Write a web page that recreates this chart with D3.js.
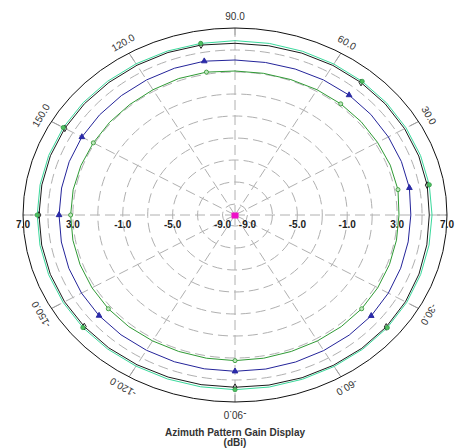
<!DOCTYPE html>
<html>
<head>
<meta charset="utf-8">
<script src="https://cdn.jsdelivr.net/npm/d3@7"></script>
<style>
  html, body { margin: 0; padding: 0; background: #fff; }
  svg { display: block; }
</style>
</head>
<body>
<svg id="chart" width="462" height="448"></svg>
<script>
// Azimuth angles (degrees) of each sample
const azimuths = [0, 10, 20, 30, 40, 50, 60, 70, 80, 90, 100, 110, 120, 130, 140, 150, 160, 170,
                  180, -170, -160, -150, -140, -130, -120, -110, -100, -90, -80, -70, -60, -50, -40, -30, -20, -10];

// Gain (dBi) per azimuth for each trace
const gainTeal  = [5.80, 5.82, 5.83, 5.84, 5.86, 5.86, 5.85, 5.84, 5.84, 5.85, 5.84, 5.86, 5.87, 5.88, 5.89, 5.90, 5.89, 5.87,
                   5.86, 5.88, 5.90, 5.91, 5.92, 5.90, 5.87, 5.86, 5.86, 5.88, 5.88, 5.88, 5.90, 5.93, 5.94, 5.90, 5.84, 5.80];
const gainBlack = [5.58, 5.65, 5.68, 5.70, 5.72, 5.72, 5.70, 5.66, 5.62, 5.61, 5.69, 5.72, 5.72, 5.73, 5.75, 5.76, 5.75, 5.73,
                   5.72, 5.74, 5.76, 5.78, 5.78, 5.76, 5.72, 5.68, 5.66, 5.66, 5.70, 5.74, 5.78, 5.82, 5.83, 5.78, 5.70, 5.62];
const gainBlue  = [4.10, 4.20, 4.20, 4.20, 4.22, 4.23, 4.18, 4.12, 4.08, 4.09, 4.20, 4.20, 4.18, 4.17, 4.17, 4.18, 4.15, 4.12,
                   4.11, 4.14, 4.18, 4.21, 4.23, 4.22, 4.20, 4.20, 4.20, 4.21, 4.22, 4.22, 4.23, 4.25, 4.26, 4.20, 4.14, 4.10];
const gainGreen = [3.15, 3.27, 3.25, 3.20, 3.20, 3.19, 3.15, 3.10, 3.08, 3.09, 3.19, 3.20, 3.15, 3.12, 3.12, 3.12, 3.15, 3.18,
                   3.18, 3.20, 3.22, 3.24, 3.26, 3.25, 3.22, 3.20, 3.22, 3.24, 3.22, 3.20, 3.22, 3.25, 3.26, 3.22, 3.18, 3.15];

// Azimuths that carry a marker symbol
const markerAzimuths = [10, 50, 100, 150, 180, -140, -90, -40];

// Grid rings and labels
const ringValues = [-9, -7, -5, -3, -1, 1, 3, 5];
const radialTickLabels = ["7.0", "3.0", "-1.0", "-5.0", "-9.0"];
const radialTickValues = [7, 3, -1, -5, -9];
const spokeAngles = [0, 30, 60, 90, 120, 150, 180, -150, -120, -90, -60, -30];
const angleLabelValues = [90, 60, 30, 120, 150, -150, -120, -90, -60, -30];
const angleLabels = ["90.0", "60.0", "30.0", "120.0", "150.0", "-150.0", "-120.0", "-90.0", "-60.0", "-30.0"];

const titleLines = ["Azimuth Pattern Gain Display", "(dBi)"];

const svg = d3.select("#chart");
const cx = 235, cy = 215, rx = 212, ry = 187;

// Radial scale: gain -> fraction of the outer ring
const rScale = d3.scaleLinear().domain([-10, 7]).range([0, 1]);
const toRad = d => d * Math.PI / 180;
const px = (v, a) => cx + rx * rScale(v) * Math.cos(toRad(a));
const py = (v, a) => cy - ry * rScale(v) * Math.sin(toRad(a));

const g = svg.append("g");

// Dashed grid rings
g.selectAll("ellipse.ring").data(ringValues).join("ellipse")
  .attr("class", "ring")
  .attr("cx", cx).attr("cy", cy)
  .attr("rx", d => rx * rScale(d)).attr("ry", d => ry * rScale(d))
  .attr("fill", "none").attr("stroke", "#b0b0b0").attr("stroke-width", 1)
  .attr("stroke-dasharray", "10,5");

// Dashed spokes
g.selectAll("line.spoke").data(spokeAngles).join("line")
  .attr("class", "spoke")
  .attr("x1", cx).attr("y1", cy)
  .attr("x2", a => px(7, a)).attr("y2", a => py(7, a))
  .attr("stroke", "#b0b0b0").attr("stroke-width", 1)
  .attr("stroke-dasharray", "10,5");

// Solid ticks at the rim
g.selectAll("line.tick").data(spokeAngles).join("line")
  .attr("class", "tick")
  .attr("x1", a => px(6.2, a)).attr("y1", a => py(6.2, a))
  .attr("x2", a => px(7, a)).attr("y2", a => py(7, a))
  .attr("stroke", "#a0a0a0").attr("stroke-width", 1);

// Outer rim
g.append("ellipse")
  .attr("cx", cx).attr("cy", cy).attr("rx", rx).attr("ry", ry)
  .attr("fill", "none").attr("stroke", "#111").attr("stroke-width", 1);

// Radial value labels on both sides of the horizontal axis
const radialLabelData = [];
radialTickValues.forEach((v, i) => {
  radialLabelData.push({ v, t: radialTickLabels[i], a: 180 });
  radialLabelData.push({ v, t: radialTickLabels[i], a: 0 });
});
g.selectAll("text.rlabel").data(radialLabelData).join("text")
  .attr("class", "rlabel")
  .attr("x", d => px(d.v, d.a)).attr("y", cy + 12.5)
  .attr("text-anchor", "middle")
  .attr("font-family", "Liberation Sans, Arial, sans-serif")
  .attr("font-weight", "bold").attr("font-size", 10)
  .attr("fill", "#222")
  .text(d => d.t);

// Angle labels set just outside the rim, rotated along it
g.selectAll("text.alabel").data(angleLabelValues).join("text")
  .attr("class", "alabel")
  .attr("transform", a => {
    const x = cx + (rx + 12) * Math.cos(toRad(a));
    const y = cy - (ry + 12) * Math.sin(toRad(a));
    return `translate(${x},${y}) rotate(${90 - a})`;
  })
  .attr("text-anchor", "middle").attr("dy", "0.35em")
  .attr("font-family", "Liberation Sans, Arial, sans-serif")
  .attr("font-size", 10).attr("fill", "#333")
  .text((a, i) => angleLabels[i]);

// Traces
const traces = [
  { values: gainBlack, color: "#1a1a1a", marker: "diamond" },
  { values: gainTeal,  color: "#3ad99c", marker: "dot" },
  { values: gainBlue,  color: "#24249a", marker: "triangle" },
  { values: gainGreen, color: "#2f9a35", marker: "ring" }
];

const line = d3.line()
  .x(d => px(d.v, d.a)).y(d => py(d.v, d.a))
  .curve(d3.curveLinearClosed);

traces.forEach(tr => {
  const pts = azimuths.map((a, i) => ({ a, v: tr.values[i] }));
  g.append("path").datum(pts)
    .attr("d", line)
    .attr("fill", "none").attr("stroke", tr.color).attr("stroke-width", 1);
});

// Marker symbols
const symbolFor = {
  diamond:  { type: d3.symbolDiamond,  size: 13, fill: "none",    stroke: "#111" },
  dot:      { type: d3.symbolCircle,   size: 14, fill: "#4fc060", stroke: "#3aa050" },
  triangle: { type: d3.symbolTriangle, size: 14, fill: "#2a2ab0", stroke: "#24249a" },
  ring:     { type: d3.symbolCircle,   size: 13, fill: "#bfe8bf", stroke: "#3a9a3a" }
};
traces.forEach(tr => {
  const s = symbolFor[tr.marker];
  const pts = markerAzimuths.map(a => ({ a, v: tr.values[azimuths.indexOf(a)] }));
  g.selectAll(null).data(pts).join("path")
    .attr("transform", d => `translate(${px(d.v, d.a)},${py(d.v, d.a)})`)
    .attr("d", d3.symbol().type(s.type).size(s.size))
    .attr("fill", s.fill).attr("stroke", s.stroke).attr("stroke-width", 0.9);
});

// Centre marker
g.append("rect")
  .attr("x", cx - 3.5).attr("y", cy - 2.5).attr("width", 7).attr("height", 6)
  .attr("fill", "#ee10c8");

// Title
svg.selectAll("text.title").data(titleLines).join("text")
  .attr("class", "title")
  .attr("x", cx).attr("y", (d, i) => 435.5 + i * 10)
  .attr("text-anchor", "middle")
  .attr("font-family", "Liberation Sans, Arial, sans-serif")
  .attr("font-weight", "bold").attr("font-size", 10)
  .attr("fill", "#333")
  .text(d => d);
</script>
</body>
</html>
